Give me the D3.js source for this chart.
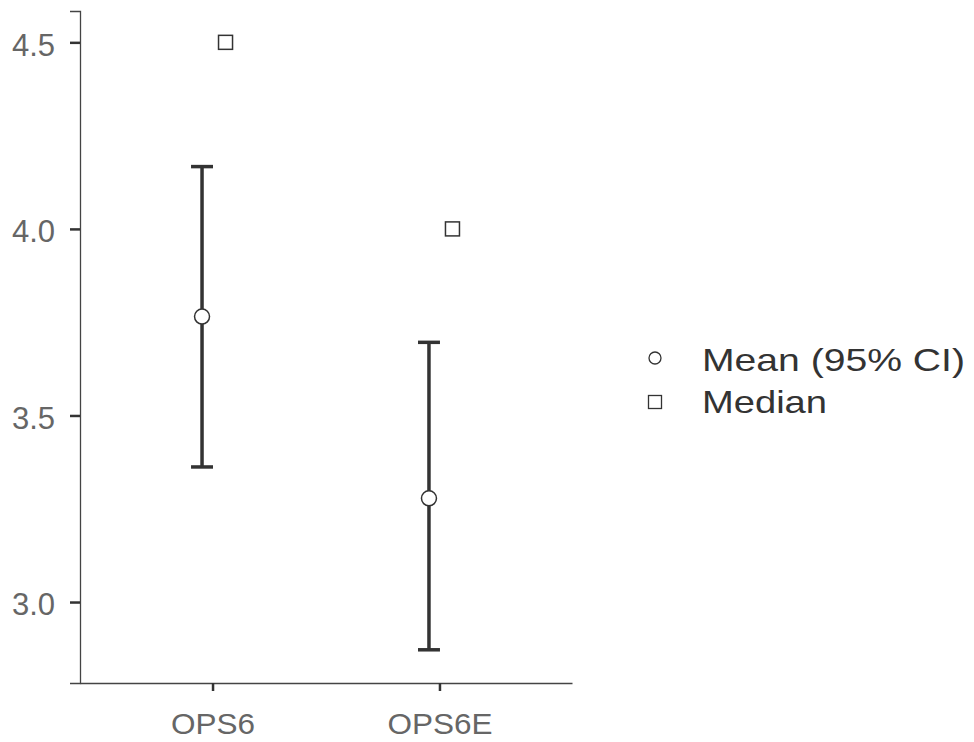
<!DOCTYPE html>
<html>
<head>
<meta charset="utf-8">
<script src="https://cdn.jsdelivr.net/npm/d3@7"></script>
<style>
  body { margin: 0; background: #fff; }
  svg { display: block; font-family: "Liberation Sans", Arial, sans-serif; }
</style>
</head>
<body>
<script>
var categories = ["OPS6", "OPS6E"];
var means = [3.765, 3.278];
var ciLower = [3.362, 2.872];
var ciUpper = [4.167, 3.696];
var medians = [4.5, 4.0];
var yTicks = [3.0, 3.5, 4.0, 4.5];
var legendLabels = ["Mean (95% CI)", "Median"];

var width = 974, height = 742;

var svg = d3.select("body").append("svg")
    .attr("width", width)
    .attr("height", height);

var x = d3.scalePoint()
    .domain(categories)
    .range([80, 572])
    .padding(0.584);

var y = d3.scaleLinear()
    .domain([2.783, 4.584])
    .range([683, 11]);

// y axis
var yAxis = svg.append("g")
    .attr("transform", "translate(80,0)")
    .call(d3.axisLeft(y).tickValues(yTicks).tickFormat(d3.format(".1f")).tickSize(10).tickPadding(15));
yAxis.select(".domain").attr("stroke", "#444").attr("stroke-width", 1.3);
yAxis.selectAll(".tick line").attr("stroke", "#333").attr("stroke-width", 2.5);
yAxis.selectAll(".tick text")
    .attr("fill", "#666").attr("font-size", 31).attr("dy", "0.41em");

// x axis
var xAxis = svg.append("g")
    .attr("transform", "translate(0,683)")
    .call(d3.axisBottom(x).tickSize(8).tickPadding(22).tickSizeOuter(0));
xAxis.select(".domain").attr("stroke", "#444").attr("stroke-width", 1.3);
xAxis.selectAll(".tick line").attr("stroke", "#333").attr("stroke-width", 2.5);
xAxis.selectAll(".tick text")
    .attr("fill", "#666").attr("font-size", 30)
    .attr("textLength", function(d) { return d.length * 21; })
    .attr("lengthAdjust", "spacingAndGlyphs");

var data = categories.map(function(c, i) {
    return { cat: c, mean: means[i], lo: ciLower[i], hi: ciUpper[i], med: medians[i] };
});

var meanOffset = -10.5, medOffset = 13, capW = 22;

var bars = svg.append("g").selectAll("g")
    .data(data)
    .enter().append("g");

bars.append("line")
    .attr("x1", function(d) { return x(d.cat) + meanOffset; })
    .attr("x2", function(d) { return x(d.cat) + meanOffset; })
    .attr("y1", function(d) { return y(d.lo); })
    .attr("y2", function(d) { return y(d.hi); })
    .attr("stroke", "#333").attr("stroke-width", 3.5);

["lo", "hi"].forEach(function(k) {
    bars.append("line")
        .attr("x1", function(d) { return x(d.cat) + meanOffset - capW / 2; })
        .attr("x2", function(d) { return x(d.cat) + meanOffset + capW / 2; })
        .attr("y1", function(d) { return y(d[k]); })
        .attr("y2", function(d) { return y(d[k]); })
        .attr("stroke", "#333").attr("stroke-width", 3.5);
});

bars.append("circle")
    .attr("cx", function(d) { return x(d.cat) + meanOffset; })
    .attr("cy", function(d) { return y(d.mean); })
    .attr("r", 7.5)
    .attr("fill", "#fff").attr("stroke", "#333").attr("stroke-width", 1.5);

bars.append("rect")
    .attr("x", function(d) { return x(d.cat) + medOffset - 7; })
    .attr("y", function(d) { return y(d.med) - 7; })
    .attr("width", 14).attr("height", 14)
    .attr("fill", "#fff").attr("stroke", "#333").attr("stroke-width", 1.5);

// legend
var legend = svg.append("g").attr("transform", "translate(655,0)");
legend.append("circle")
    .attr("cx", 0).attr("cy", 358).attr("r", 6)
    .attr("fill", "#fff").attr("stroke", "#333").attr("stroke-width", 1.3);
legend.append("rect")
    .attr("x", -6.5).attr("y", 402 - 6.5).attr("width", 13).attr("height", 13)
    .attr("fill", "#fff").attr("stroke", "#333").attr("stroke-width", 1.3);
legend.selectAll("text")
    .data(legendLabels)
    .enter().append("text")
    .attr("x", 47)
    .attr("y", function(d, i) { return 371 + i * 42; })
    .attr("font-size", 32)
    .attr("fill", "#333")
    .attr("textLength", function(d, i) { return i === 0 ? 263 : 125; })
    .attr("lengthAdjust", "spacingAndGlyphs")
    .text(function(d) { return d; });
</script>
</body>
</html>
